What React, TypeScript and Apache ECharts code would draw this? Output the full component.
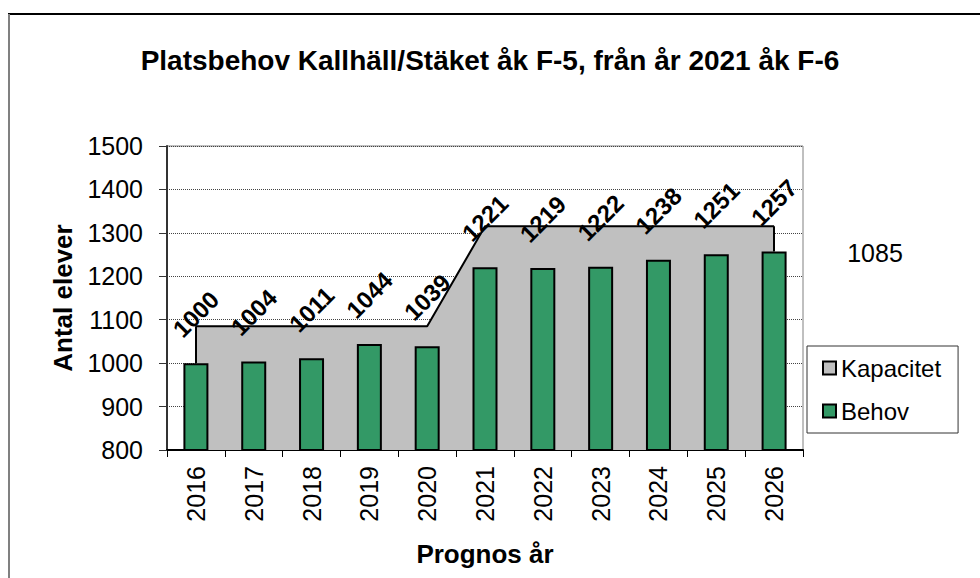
import React, { useEffect, useRef } from "react";
import * as echarts from "echarts";

const categories = ["2016", "2017", "2018", "2019", "2020", "2021", "2022", "2023", "2024", "2025", "2026"];
const behov = [1000, 1004, 1011, 1044, 1039, 1221, 1219, 1222, 1238, 1251, 1257];
const kapacitet = [1085, 1085, 1085, 1085, 1085, 1315, 1315, 1315, 1315, 1315, 1315];
const yMin = 800;
const yMax = 1500;
const yInterval = 100;
const strayLabel = "1085";
const titleText = "Platsbehov Kallhäll/Stäket åk F-5, från år 2021 åk F-6";

const FONT = "'Liberation Sans', Arial, sans-serif";

export default function App() {
  const ref = useRef<HTMLDivElement>(null);
  useEffect(() => {
    if (!ref.current) return;
    const chart = echarts.init(ref.current, null, { renderer: "svg" });
    const last = categories.length - 1;
    chart.setOption({
      animation: false,
      backgroundColor: "#ffffff",
      textStyle: { fontFamily: FONT },
      title: {
        text: titleText,
        left: 485,
        textAlign: "center",
        top: 41,
        textStyle: { fontFamily: FONT, fontSize: 28, fontWeight: "bold", color: "#000" },
      },
      grid: {
        left: 167,
        right: 177,
        top: 146,
        bottom: 128,
        show: true,
        borderColor: "#808080",
        borderWidth: 1,
        backgroundColor: "transparent",
      },
      legend: {
        orient: "vertical",
        left: 807,
        top: 346,
        padding: [10, 17, 10, 15],
        itemGap: 19,
        itemWidth: 13,
        itemHeight: 13,
        borderColor: "#333",
        borderWidth: 1,
        textStyle: { fontFamily: FONT, fontSize: 24, color: "#000" },
        data: [
          { name: "Kapacitet", icon: "rect", itemStyle: { color: "#c0c0c0", borderColor: "#000", borderWidth: 2 } },
          { name: "Behov", icon: "rect", itemStyle: { color: "#339966", borderColor: "#000", borderWidth: 2 } },
        ],
      },
      xAxis: {
        type: "category",
        data: categories,
        boundaryGap: true,
        name: "Prognos år",
        nameLocation: "middle",
        nameGap: 91,
        nameTextStyle: { fontFamily: FONT, fontSize: 26, fontWeight: "bold", color: "#000" },
        axisLine: { show: true, lineStyle: { color: "#000", width: 2 } },
        axisTick: { show: true, alignWithLabel: false, length: 7, lineStyle: { color: "#000", width: 1 } },
        axisLabel: { rotate: 90, margin: 16, fontFamily: FONT, fontSize: 25, color: "#000" },
        splitLine: { show: false },
      },
      yAxis: {
        type: "value",
        min: yMin,
        max: yMax,
        interval: yInterval,
        name: "Antal elever",
        nameLocation: "middle",
        nameGap: 88,
        nameTextStyle: { fontFamily: FONT, fontSize: 26, fontWeight: "bold", color: "#000" },
        axisLine: { show: true, lineStyle: { color: "#333", width: 2 } },
        axisTick: { show: true, length: 8, lineStyle: { color: "#333", width: 1 } },
        axisLabel: {
          margin: 24,
          fontFamily: FONT,
          fontSize: 25,
          color: "#000",
          formatter: (v: number) => String(v),
        },
        splitLine: { show: true, lineStyle: { type: "dotted", color: "#444", width: 1 } },
      },
      series: [
        {
          name: "Kapacitet",
          type: "line",
          data: kapacitet,
          z: 2,
          symbol: "none",
          lineStyle: { color: "#000", width: 2 },
          itemStyle: { color: "#c0c0c0" },
          areaStyle: { color: "#c0c0c0", opacity: 1, origin: "start" },
          markLine: {
            silent: true,
            symbol: "none",
            label: { show: false },
            lineStyle: { color: "#000", width: 2, type: "solid" },
            data: [
              [{ coord: [0, behov[0]] }, { coord: [0, kapacitet[0]] }],
              [{ coord: [last, behov[last]] }, { coord: [last, kapacitet[last]] }],
            ],
          },
        },
        {
          name: "Behov",
          type: "bar",
          data: behov,
          z: 3,
          barWidth: 25,
          itemStyle: { color: "#339966", borderColor: "#000", borderWidth: 2 },
          label: {
            show: true,
            position: "top",
            distance: 49,
            rotate: 45,
            align: "center",
            verticalAlign: "middle",
            fontFamily: FONT,
            fontSize: 24,
            fontWeight: "bold",
            color: "#000",
          },
        },
      ],
      graphic: [
        {
          type: "text",
          x: 875,
          y: 253,
          style: {
            text: strayLabel,
            fontFamily: FONT,
            fontSize: 25,
            fill: "#000",
            textAlign: "center",
            textVerticalAlign: "middle",
          },
        },
        {
          type: "line",
          shape: { x1: 8, y1: 14, x2: 980, y2: 14 },
          style: { stroke: "#000", lineWidth: 2 },
        },
        {
          type: "line",
          shape: { x1: 9, y1: 14, x2: 9, y2: 578 },
          style: { stroke: "#808080", lineWidth: 2 },
        },
      ],
    });
    return () => chart.dispose();
  }, []);
  return (
    <div
      ref={ref}
      style={{ position: "fixed", left: 0, top: 0, width: 980, height: 578, background: "#fff" }}
    />
  );
}
